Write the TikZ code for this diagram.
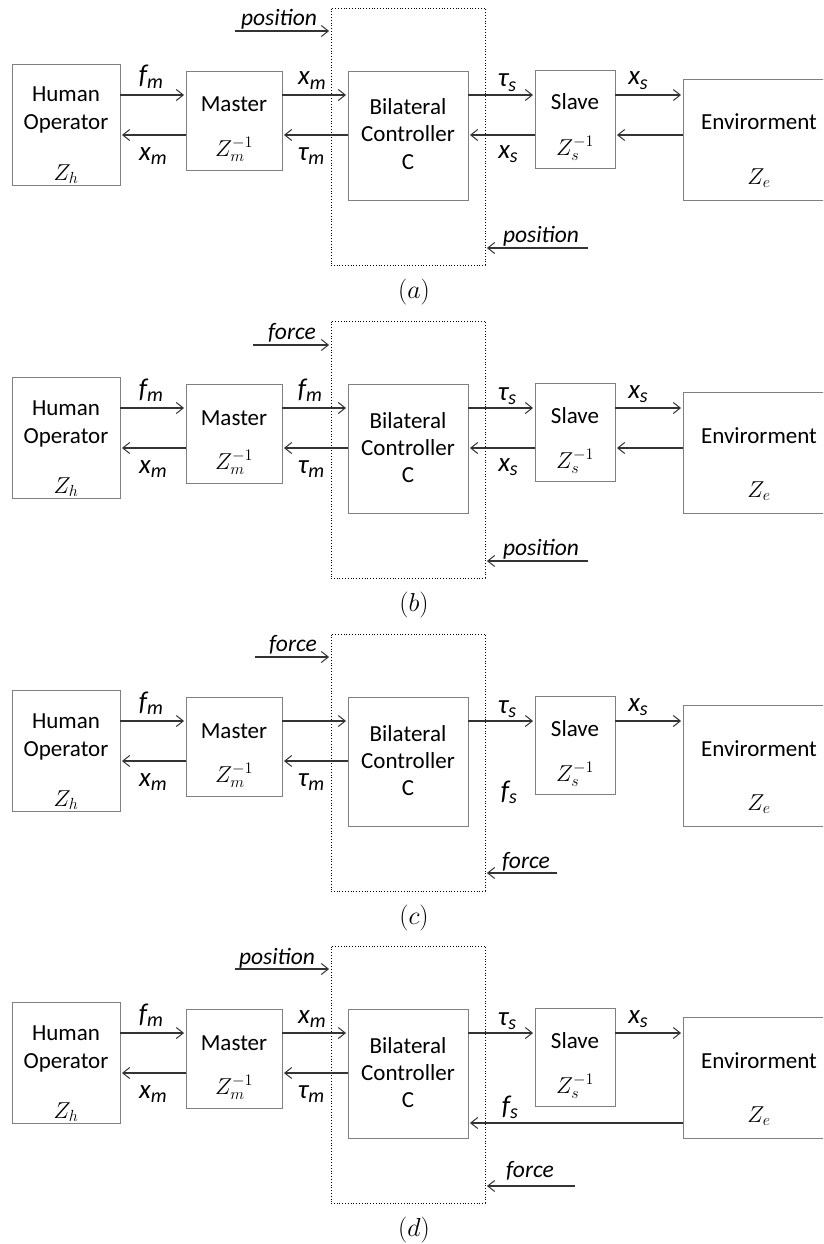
\RequirePackage{fix-cm}
\documentclass[tikz,border=0pt]{standalone}
\usepackage[no-math]{fontspec}
\setmainfont{Carlito}
\usetikzlibrary{arrows.meta}

\tikzset{
  blk/.style={draw=black!50, line width=0.9pt, rectangle, inner sep=0pt},
  ctlbox/.style={draw=black, dotted, line width=0.8pt, rectangle, inner sep=0pt},
  arr/.style={draw=black!80, line width=1.1pt, shorten >=1.5pt,
    -{Straight Barb[length=7pt,width=11pt,line width=1pt]}},
  txt/.style={font=\fontsize{23}{25}\selectfont, anchor=base, inner sep=0pt},
  sig/.style={font=\fontsize{27}{29}\selectfont\itshape, anchor=base, inner sep=0pt},
  word/.style={font=\fontsize{23.5}{25}\selectfont\itshape, anchor=base, inner sep=0pt},
  imp/.style={font=\fontsize{23}{25}\selectfont, anchor=base, inner sep=0pt},
  capt/.style={font=\fontsize{26}{28}\selectfont, anchor=base, inner sep=0pt},
}

% italic signal name with a lowered subscript
\newcommand\sg[2]{#1\raisebox{-0.35ex}{\fontsize{20}{22}\selectfont #2}}

% the five blocks shared by every variant
\newcommand\blocks{%
  \node[blk, minimum width=108pt, minimum height=121pt] (hum) at (66,124.5) {};
  \node[txt] (hum1) at (66,102) {Human};
  \node[txt] (hum2) at (66,130) {Operator};
  \node[imp] (humz) at (66,180) {$Z_h$};
  \node[blk, minimum width=96pt, minimum height=99pt] (mas) at (234,120.5) {};
  \node[txt] (mas1) at (234,112) {Master};
  \node[imp] (masz) at (234,156) {$Z_m^{-1}$};
  \node[ctlbox, minimum width=154pt, minimum height=257pt] (dot) at (408,136.5) {};
  \node[blk, minimum width=120pt, minimum height=129pt] (ctl) at (408,135.5) {};
  \node[txt] (ctl1) at (408,115) {Bilateral};
  \node[txt] (ctl2) at (408,142) {Controller};
  \node[txt] (ctl3) at (408,169) {C};
  \node[blk, minimum width=80pt, minimum height=98pt] (sla) at (575,119) {};
  \node[txt] (sla1) at (575,110) {Slave};
  \node[imp] (slaz) at (575,155) {$Z_s^{-1}$};
  \node[blk, minimum width=153pt, minimum height=121pt] (env) at (759.5,139.5) {};
  \node[txt] (env1) at (759,130) {Envirorment};
  \node[imp] (envz) at (759,184) {$Z_e$};
  \coordinate (up) at (0,95);
  \coordinate (dn) at (0,135);
  \coordinate (fb) at (0,185);
  \draw[arr] (hum.east|-up) -- (mas.west|-up);
  \draw[arr] (mas.west|-dn) -- (hum.east|-dn);
  \draw[arr] (ctl.west|-dn) -- (mas.east|-dn);
  \draw[arr] (mas.east|-up) -- (ctl.west|-up);
  \draw[arr] (ctl.east|-up) -- (sla.west|-up);
  \draw[arr] (sla.east|-up) -- (env.west|-up);
  \node[sig] (lfm) at (151,84) {\sg{f}{m}};
  \node[sig] (lxm) at (153,160) {\sg{x}{m}};
  \node[sig] (ltm) at (311,160) {\sg{τ}{m}};
  \node[sig] (lts) at (507,87) {\sg{τ}{s}};
  \node[sig] (lxs) at (638,85) {\sg{x}{s}};
}

\begin{document}
\begin{tikzpicture}[x=1pt,y=-1pt]
\useasboundingbox (0,0) rectangle (823,1244);
\clip (0,0) rectangle (823,1244);

% (a) position-position
\begin{scope}[name prefix=a-]
  \blocks
  \draw[arr] (sla.west|-dn) -- (ctl.east|-dn);
  \draw[arr] (env.west|-dn) -- (sla.east|-dn);
  \node[sig] (lxm2) at (312,85) {\sg{x}{m}};
  \node[sig] (lxs2) at (508,158) {\sg{x}{s}};
  \coordinate (pin) at (235,31);
  \coordinate (pout) at (588,248);
  \draw[arr] (pin) -- (dot.west|-pin);
  \draw[arr] (pout) -- (dot.east|-pout);
  \node[word] (tin) at (279,26) {position};
  \node[word] (tout) at (541,242) {position};
  \node[capt] (cap) at (414,298) {$(a)$};
\end{scope}

% (b) force-position
\begin{scope}[shift={(0,313)}, name prefix=b-]
  \blocks
  \draw[arr] (sla.west|-dn) -- (ctl.east|-dn);
  \draw[arr] (env.west|-dn) -- (sla.east|-dn);
  \node[sig] (lfm2) at (310,84) {\sg{f}{m}};
  \node[sig] (lxs2) at (508,158) {\sg{x}{s}};
  \coordinate (pin) at (253,32);
  \coordinate (pout) at (588,248);
  \draw[arr] (pin) -- (dot.west|-pin);
  \draw[arr] (pout) -- (dot.east|-pout);
  \node[word] (tin) at (292,26) {force};
  \node[word] (tout) at (541,242) {position};
  \node[capt] (cap) at (414,298) {$(b)$};
\end{scope}

% (c) force-force
\begin{scope}[shift={(0,626)}, name prefix=c-]
  \blocks
  \node[sig] (lfs) at (509,173) {\sg{f}{s}};
  \coordinate (pin) at (255,31);
  \coordinate (pout) at (557,247);
  \draw[arr] (pin) -- (dot.west|-pin);
  \draw[arr] (pout) -- (dot.east|-pout);
  \node[word] (tin) at (293,25) {force};
  \node[word] (tout) at (526,242) {force};
  \node[capt] (cap) at (414,298) {$(c)$};
\end{scope}

% (d) position-force
\begin{scope}[shift={(0,938)}, name prefix=d-]
  \blocks
  \draw[arr] (env.west|-fb) -- (ctl.east|-fb);
  \node[sig] (lxm2) at (312,85) {\sg{x}{m}};
  \node[sig] (lfs) at (510,176) {\sg{f}{s}};
  \coordinate (pin) at (235,31);
  \coordinate (pout) at (575,248);
  \draw[arr] (pin) -- (dot.west|-pin);
  \draw[arr] (pout) -- (dot.east|-pout);
  \node[word] (tin) at (277,26) {position};
  \node[word] (tout) at (530,239) {force};
  \node[capt] (cap) at (414,298) {$(d)$};
\end{scope}
\end{tikzpicture}
\end{document}
